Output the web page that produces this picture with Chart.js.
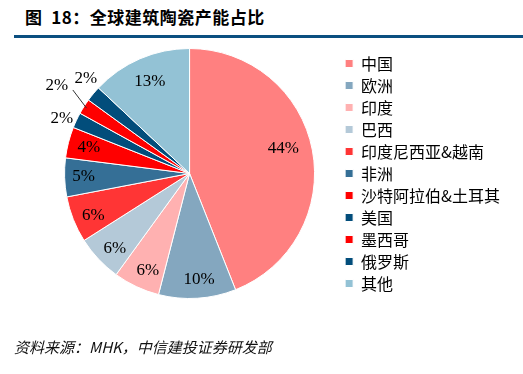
<!DOCTYPE html>
<html>
<head>
<meta charset="utf-8">
<script src="https://cdn.jsdelivr.net/npm/chart.js@4"></script>
<style>
	body { margin: 0; background: #fff; }
	#wrap { position: relative; width: 523px; height: 374px; overflow: hidden; }
	#title {
		position: absolute; left: 25px; top: 4px;
		font: bold 17px "Noto Sans CJK SC", sans-serif; color: #000;
		letter-spacing: 0.5px; white-space: pre;
	}
	#rule { position: absolute; left: 14px; right: 0; top: 35px; height: 3px; background: #0b4f80; }
	#source {
		position: absolute; left: 14px; top: 336px;
		font: italic 15px "Noto Sans CJK SC", sans-serif; color: #111;
	}
	canvas { position: absolute; left: 0; top: 0; }
</style>
</head>
<body>
<div id="wrap">
	<div id="title">图  18：全球建筑陶瓷产能占比</div>
	<div id="rule"></div>
	<canvas id="pieChart" width="523" height="374"></canvas>
	<div id="source">资料来源：MHK，中信建投证券研发部</div>
</div>
<script>
// Data
const regions = ['中国', '欧洲', '印度', '巴西', '印度尼西亚&越南', '非洲', '沙特阿拉伯&土耳其', '美国', '墨西哥', '俄罗斯', '其他'];
const shares = [44, 10, 6, 6, 6, 5, 4, 2, 2, 2, 13];

const sliceColors = ['#ff8080', '#84a7bf', '#ffb1b1', '#b4c9d8', '#ff3535', '#356f96', '#ff0000', '#024d7b', '#ff0000', '#024d7b', '#93c2d5'];

// label distance from centre, in px (small slices sit outside)
const labelRadius = [97, 106, 106, 106, 105, 106, 104, 139, 159, 141, 100];
const labelAngleShift = [-4, -1.5, -2, -2, -2, 0, 0, -2, 1, 3, 0];

const pieLabels = {
	id: 'pieLabels',
	afterDatasetsDraw(chart) {
		const ctx = chart.ctx;
		const arcs = chart.getDatasetMeta(0).data;
		ctx.save();
		ctx.font = '17px "Liberation Serif", serif';
		ctx.fillStyle = '#000';
		ctx.textAlign = 'center';
		ctx.textBaseline = 'middle';
		arcs.forEach((arc, i) => {
			const mid = (arc.startAngle + arc.endAngle) / 2 + labelAngleShift[i] * Math.PI / 180;
			const x = arc.x + Math.cos(mid) * labelRadius[i];
			const y = arc.y + Math.sin(mid) * labelRadius[i];
			ctx.fillText(shares[i] + '%', x, y);
			if (i === 8) {
				// leader line for the Mexico label
				const a = (arc.startAngle + arc.endAngle) / 2;
				ctx.strokeStyle = '#333';
				ctx.lineWidth = 1;
				ctx.beginPath();
				ctx.moveTo(x + 16, y + 4);
				ctx.lineTo(arc.x + Math.cos(a) * (arc.outerRadius - 3), arc.y + Math.sin(a) * (arc.outerRadius - 3));
				ctx.stroke();
			}
		});
		ctx.restore();
	}
};

new Chart(document.getElementById('pieChart'), {
	type: 'pie',
	data: {
		labels: regions,
		datasets: [{
			data: shares,
			backgroundColor: sliceColors,
			borderColor: '#ffffff',
			borderWidth: 1,
		}],
	},
	options: {
		responsive: false,
		animation: false,
		layout: { padding: { top: 48, bottom: 75, left: 40, right: 13 } },
		plugins: {
			tooltip: { enabled: false },
			legend: {
				position: 'right',
				labels: {
					boxWidth: 8,
					boxHeight: 8,
					padding: 6,
					color: '#000',
					font: { size: 16, family: '"Noto Sans CJK SC", sans-serif' },
				},
			},
		},
	},
	plugins: [pieLabels],
});
</script>
</body>
</html>
